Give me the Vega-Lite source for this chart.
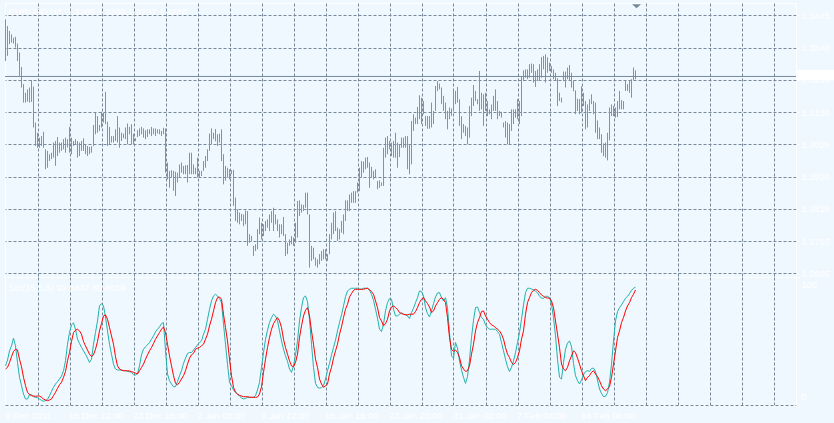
{
"$schema": "https://vega.github.io/schema/vega-lite/v6.json",
"background": "#f0f8ff",
"padding": {"left": 3, "top": 2, "right": 2, "bottom": 4},
"bounds": "flush",
"spacing": 0,
"config": {
  "view": {"stroke": "#ffffff", "strokeWidth": 1},
  "font": "Liberation Sans",
  "axis": {"labelFont": "Liberation Sans", "labelFontSize": 9.2, "labelColor": "#ffffff", "tickColor": "#ffffff", "domainColor": "#ffffff", "gridColor": "#778899", "gridDash": [3, 2], "gridWidth": 1, "title": null, "labelOverlap": false, "labelBound": false, "tickCount": 100}
},
"datasets": {"bars": [
{"i":0,"h":1.3432,"l":1.3296,"k":30.6,"d":28.1},
{"i":1,"h":1.3410,"l":1.3313,"k":35.1,"d":29.4},
{"i":2,"h":1.3394,"l":1.3351,"k":42.3,"d":33.2},
{"i":3,"h":1.3383,"l":1.3356,"k":46.2,"d":37.7},
{"i":4,"h":1.3372,"l":1.3353,"k":52.2,"d":41.8},
{"i":5,"h":1.3375,"l":1.3340,"k":46.2,"d":43.6},
{"i":6,"h":1.3353,"l":1.3296,"k":33.2,"d":42.9},
{"i":7,"h":1.3324,"l":1.3248,"k":21.6,"d":35.8},
{"i":8,"h":1.3277,"l":1.3210,"k":15.1,"d":29.9},
{"i":9,"h":1.3221,"l":1.3161,"k":8.6,"d":21.6},
{"i":10,"h":1.3193,"l":1.3161,"k":4.7,"d":15.1},
{"i":11,"h":1.3204,"l":1.3164,"k":4.7,"d":9.9},
{"i":12,"h":1.3210,"l":1.3161,"k":8.1,"d":8.1},
{"i":13,"h":1.3234,"l":1.3163,"k":8.1,"d":7.3},
{"i":14,"h":1.3213,"l":1.3080,"k":6.5,"d":7.0},
{"i":15,"h":1.3096,"l":1.3020,"k":6.0,"d":6.8},
{"i":16,"h":1.3063,"l":1.3014,"k":5.7,"d":7.0},
{"i":17,"h":1.3047,"l":1.3014,"k":4.7,"d":7.0},
{"i":18,"h":1.3052,"l":1.3020,"k":3.6,"d":6.0},
{"i":19,"h":1.3066,"l":1.3014,"k":2.9,"d":4.7},
{"i":20,"h":1.3009,"l":1.2944,"k":3.4,"d":3.9},
{"i":21,"h":1.3004,"l":1.2949,"k":4.4,"d":3.4},
{"i":22,"h":1.2993,"l":1.2971,"k":7.3,"d":3.9},
{"i":23,"h":1.2998,"l":1.2977,"k":10.6,"d":4.7},
{"i":24,"h":1.3031,"l":1.2982,"k":13.8,"d":7.3},
{"i":25,"h":1.3036,"l":1.2955,"k":16.4,"d":9.9},
{"i":26,"h":1.3049,"l":1.2987,"k":18.2,"d":13.0},
{"i":27,"h":1.3031,"l":1.2998,"k":20.3,"d":15.8},
{"i":28,"h":1.3031,"l":1.3004,"k":22.6,"d":17.7},
{"i":29,"h":1.3042,"l":1.3009,"k":26.8,"d":21.6},
{"i":30,"h":1.3047,"l":1.2998,"k":34.5,"d":26.2},
{"i":31,"h":1.3042,"l":1.3015,"k":47.5,"d":34.5},
{"i":32,"h":1.3082,"l":1.2998,"k":56.6,"d":41.0},
{"i":33,"h":1.3047,"l":1.2993,"k":62.6,"d":49.6},
{"i":34,"h":1.3036,"l":1.3020,"k":64.2,"d":56.6},
{"i":35,"h":1.3042,"l":1.3025,"k":59.2,"d":58.4},
{"i":36,"h":1.3036,"l":1.2982,"k":51.4,"d":59.2},
{"i":37,"h":1.3031,"l":1.2987,"k":48.1,"d":57.9},
{"i":38,"h":1.3036,"l":1.3004,"k":44.9,"d":55.3},
{"i":39,"h":1.3045,"l":1.3004,"k":42.3,"d":49.6},
{"i":40,"h":1.3025,"l":1.2993,"k":39.7,"d":46.2},
{"i":41,"h":1.3020,"l":1.2987,"k":36.6,"d":42.9},
{"i":42,"h":1.3017,"l":1.2993,"k":33.2,"d":39.7},
{"i":43,"h":1.3019,"l":1.2998,"k":35.8,"d":37.9},
{"i":44,"h":1.3088,"l":1.3020,"k":47.5,"d":39.2},
{"i":45,"h":1.3128,"l":1.3058,"k":56.6,"d":43.6},
{"i":46,"h":1.3117,"l":1.3063,"k":65.7,"d":49.6},
{"i":47,"h":1.3088,"l":1.3069,"k":77.4,"d":57.9},
{"i":48,"h":1.3131,"l":1.3080,"k":79.2,"d":63.6},
{"i":49,"h":1.3128,"l":1.3096,"k":77.4,"d":69.6},
{"i":50,"h":1.3196,"l":1.3091,"k":68.8,"d":70.4},
{"i":51,"h":1.3099,"l":1.3020,"k":57.9,"d":67.0},
{"i":52,"h":1.3082,"l":1.3025,"k":47.5,"d":60.5},
{"i":53,"h":1.3052,"l":1.3031,"k":39.7,"d":54.0},
{"i":54,"h":1.3052,"l":1.3031,"k":31.9,"d":47.5},
{"i":55,"h":1.3074,"l":1.3036,"k":28.1,"d":37.7},
{"i":56,"h":1.3117,"l":1.3031,"k":27.3,"d":30.6},
{"i":57,"h":1.3080,"l":1.3014,"k":27.3,"d":28.1},
{"i":58,"h":1.3063,"l":1.3036,"k":27.3,"d":27.3},
{"i":59,"h":1.3060,"l":1.3045,"k":26.8,"d":26.8},
{"i":60,"h":1.3080,"l":1.3042,"k":26.8,"d":26.8},
{"i":61,"h":1.3093,"l":1.3025,"k":26.2,"d":26.8},
{"i":62,"h":1.3082,"l":1.3058,"k":26.0,"d":26.5},
{"i":63,"h":1.3091,"l":1.3025,"k":25.5,"d":26.2},
{"i":64,"h":1.3060,"l":1.3025,"k":23.6,"d":25.5},
{"i":65,"h":1.3045,"l":1.3036,"k":23.4,"d":24.9},
{"i":66,"h":1.3071,"l":1.3049,"k":24.7,"d":24.2},
{"i":67,"h":1.3077,"l":1.3052,"k":30.6,"d":26.8},
{"i":68,"h":1.3082,"l":1.3058,"k":39.2,"d":29.4},
{"i":69,"h":1.3077,"l":1.3047,"k":43.6,"d":31.9},
{"i":70,"h":1.3071,"l":1.3042,"k":45.5,"d":35.8},
{"i":71,"h":1.3074,"l":1.3049,"k":47.0,"d":39.2},
{"i":72,"h":1.3074,"l":1.3058,"k":48.8,"d":42.3},
{"i":73,"h":1.3082,"l":1.3052,"k":51.4,"d":44.9},
{"i":74,"h":1.3077,"l":1.3058,"k":54.0,"d":48.1},
{"i":75,"h":1.3077,"l":1.3052,"k":57.1,"d":51.4},
{"i":76,"h":1.3074,"l":1.3060,"k":59.2,"d":54.0},
{"i":77,"h":1.3074,"l":1.3058,"k":61.0,"d":56.6},
{"i":78,"h":1.3069,"l":1.3052,"k":63.6,"d":59.2},
{"i":79,"h":1.3079,"l":1.3058,"k":64.4,"d":61.0},
{"i":80,"h":1.3077,"l":1.2933,"k":42.3,"d":56.6},
{"i":81,"h":1.2966,"l":1.2911,"k":24.2,"d":47.5},
{"i":82,"h":1.2939,"l":1.2884,"k":19.0,"d":38.4},
{"i":83,"h":1.2941,"l":1.2917,"k":16.4,"d":30.6},
{"i":84,"h":1.2939,"l":1.2874,"k":14.3,"d":22.9},
{"i":85,"h":1.2936,"l":1.2857,"k":14.3,"d":16.9},
{"i":86,"h":1.2933,"l":1.2901,"k":18.4,"d":15.8},
{"i":87,"h":1.2960,"l":1.2917,"k":22.9,"d":17.7},
{"i":88,"h":1.2966,"l":1.2933,"k":26.8,"d":20.3},
{"i":89,"h":1.2955,"l":1.2928,"k":32.5,"d":22.9},
{"i":90,"h":1.2957,"l":1.2928,"k":36.6,"d":26.8},
{"i":91,"h":1.2958,"l":1.2901,"k":40.3,"d":31.9},
{"i":92,"h":1.2998,"l":1.2928,"k":41.0,"d":36.6},
{"i":93,"h":1.2998,"l":1.2928,"k":41.0,"d":39.2},
{"i":94,"h":1.2960,"l":1.2928,"k":42.9,"d":40.3},
{"i":95,"h":1.2949,"l":1.2928,"k":44.9,"d":43.6},
{"i":96,"h":1.2982,"l":1.2917,"k":47.0,"d":44.4},
{"i":97,"h":1.2939,"l":1.2917,"k":48.8,"d":44.9},
{"i":98,"h":1.2939,"l":1.2922,"k":50.1,"d":46.2},
{"i":99,"h":1.2971,"l":1.2939,"k":55.3,"d":47.5},
{"i":100,"h":1.2987,"l":1.2949,"k":59.2,"d":51.4},
{"i":101,"h":1.3009,"l":1.2971,"k":67.0,"d":55.3},
{"i":102,"h":1.3060,"l":1.3004,"k":74.8,"d":61.8},
{"i":103,"h":1.3077,"l":1.3025,"k":81.3,"d":67.0},
{"i":104,"h":1.3063,"l":1.3042,"k":85.2,"d":73.5},
{"i":105,"h":1.3075,"l":1.3035,"k":86.5,"d":80.0},
{"i":106,"h":1.3058,"l":1.3020,"k":85.2,"d":83.9},
{"i":107,"h":1.3060,"l":1.3031,"k":83.1,"d":84.4},
{"i":108,"h":1.3074,"l":1.2971,"k":80.0,"d":82.6},
{"i":109,"h":1.2993,"l":1.2895,"k":63.1,"d":70.9},
{"i":110,"h":1.2955,"l":1.2907,"k":47.5,"d":60.5},
{"i":111,"h":1.2949,"l":1.2917,"k":31.9,"d":50.1},
{"i":112,"h":1.2944,"l":1.2911,"k":17.7,"d":35.8},
{"i":113,"h":1.2941,"l":1.2928,"k":15.1,"d":22.9},
{"i":114,"h":1.2942,"l":1.2825,"k":11.7,"d":13.8},
{"i":115,"h":1.2852,"l":1.2776,"k":9.9,"d":9.9},
{"i":116,"h":1.2814,"l":1.2770,"k":8.6,"d":8.6},
{"i":117,"h":1.2803,"l":1.2765,"k":7.0,"d":7.5},
{"i":118,"h":1.2799,"l":1.2776,"k":5.5,"d":7.0},
{"i":119,"h":1.2797,"l":1.2759,"k":4.7,"d":6.5},
{"i":120,"h":1.2810,"l":1.2765,"k":5.2,"d":6.5},
{"i":121,"h":1.2808,"l":1.2695,"k":6.0,"d":6.5},
{"i":122,"h":1.2733,"l":1.2705,"k":6.0,"d":6.0},
{"i":123,"h":1.2727,"l":1.2711,"k":6.0,"d":6.0},
{"i":124,"h":1.2695,"l":1.2662,"k":6.0,"d":6.0},
{"i":125,"h":1.2700,"l":1.2678,"k":7.3,"d":6.0},
{"i":126,"h":1.2749,"l":1.2684,"k":11.7,"d":6.2},
{"i":127,"h":1.2787,"l":1.2733,"k":17.7,"d":8.6},
{"i":128,"h":1.2770,"l":1.2716,"k":29.4,"d":14.3},
{"i":129,"h":1.2765,"l":1.2727,"k":41.0,"d":25.5},
{"i":130,"h":1.2776,"l":1.2743,"k":51.4,"d":35.8},
{"i":131,"h":1.2781,"l":1.2754,"k":58.4,"d":44.9},
{"i":132,"h":1.2797,"l":1.2743,"k":64.4,"d":52.7},
{"i":133,"h":1.2808,"l":1.2770,"k":68.3,"d":59.2},
{"i":134,"h":1.2819,"l":1.2743,"k":70.9,"d":63.6},
{"i":135,"h":1.2797,"l":1.2765,"k":69.6,"d":66.2},
{"i":136,"h":1.2781,"l":1.2743,"k":65.7,"d":68.3},
{"i":137,"h":1.2765,"l":1.2722,"k":57.9,"d":65.7},
{"i":138,"h":1.2765,"l":1.2733,"k":50.1,"d":60.5},
{"i":139,"h":1.2789,"l":1.2727,"k":43.6,"d":51.4},
{"i":140,"h":1.2733,"l":1.2662,"k":38.4,"d":44.9},
{"i":141,"h":1.2705,"l":1.2668,"k":34.0,"d":39.7},
{"i":142,"h":1.2716,"l":1.2695,"k":28.1,"d":34.5},
{"i":143,"h":1.2727,"l":1.2700,"k":25.5,"d":30.6},
{"i":144,"h":1.2722,"l":1.2695,"k":30.6,"d":29.9},
{"i":145,"h":1.2770,"l":1.2705,"k":39.2,"d":33.2},
{"i":146,"h":1.2841,"l":1.2722,"k":50.1,"d":39.7},
{"i":147,"h":1.2843,"l":1.2792,"k":65.7,"d":52.7},
{"i":148,"h":1.2830,"l":1.2803,"k":76.1,"d":61.8},
{"i":149,"h":1.2828,"l":1.2808,"k":83.9,"d":69.6},
{"i":150,"h":1.2868,"l":1.2819,"k":85.2,"d":74.0},
{"i":151,"h":1.2868,"l":1.2797,"k":80.8,"d":76.1},
{"i":152,"h":1.2797,"l":1.2624,"k":67.0,"d":69.6},
{"i":153,"h":1.2695,"l":1.2646,"k":47.5,"d":57.9},
{"i":154,"h":1.2689,"l":1.2651,"k":29.4,"d":47.5},
{"i":155,"h":1.2657,"l":1.2630,"k":16.9,"d":35.8},
{"i":156,"h":1.2651,"l":1.2624,"k":13.8,"d":29.4},
{"i":157,"h":1.2668,"l":1.2635,"k":13.2,"d":20.3},
{"i":158,"h":1.2678,"l":1.2646,"k":13.5,"d":16.4},
{"i":159,"h":1.2684,"l":1.2651,"k":15.1,"d":13.8},
{"i":160,"h":1.2684,"l":1.2651,"k":20.3,"d":14.8},
{"i":161,"h":1.2668,"l":1.2646,"k":26.8,"d":16.4},
{"i":162,"h":1.2733,"l":1.2668,"k":32.5,"d":24.2},
{"i":163,"h":1.2770,"l":1.2716,"k":39.2,"d":29.4},
{"i":164,"h":1.2803,"l":1.2733,"k":44.9,"d":36.6},
{"i":165,"h":1.2808,"l":1.2743,"k":50.6,"d":42.3},
{"i":166,"h":1.2754,"l":1.2711,"k":57.9,"d":47.5},
{"i":167,"h":1.2749,"l":1.2716,"k":64.4,"d":55.3},
{"i":168,"h":1.2776,"l":1.2738,"k":70.4,"d":61.0},
{"i":169,"h":1.2797,"l":1.2733,"k":77.4,"d":68.3},
{"i":170,"h":1.2843,"l":1.2776,"k":84.7,"d":74.8},
{"i":171,"h":1.2843,"l":1.2808,"k":89.1,"d":78.7},
{"i":172,"h":1.2862,"l":1.2808,"k":90.4,"d":84.4},
{"i":173,"h":1.2868,"l":1.2835,"k":91.2,"d":87.0},
{"i":174,"h":1.2873,"l":1.2835,"k":91.2,"d":89.6},
{"i":175,"h":1.2873,"l":1.2835,"k":91.2,"d":90.4},
{"i":176,"h":1.2901,"l":1.2868,"k":91.2,"d":90.4},
{"i":177,"h":1.2949,"l":1.2873,"k":90.6,"d":90.4},
{"i":178,"h":1.2971,"l":1.2917,"k":90.4,"d":90.4},
{"i":179,"h":1.2969,"l":1.2933,"k":91.2,"d":90.4},
{"i":180,"h":1.2982,"l":1.2944,"k":91.2,"d":90.9},
{"i":181,"h":1.2984,"l":1.2949,"k":91.2,"d":91.2},
{"i":182,"h":1.2966,"l":1.2884,"k":89.6,"d":90.1},
{"i":183,"h":1.2952,"l":1.2917,"k":86.5,"d":88.6},
{"i":184,"h":1.2939,"l":1.2911,"k":81.8,"d":86.5},
{"i":185,"h":1.2944,"l":1.2917,"k":74.8,"d":81.3},
{"i":186,"h":1.2906,"l":1.2879,"k":67.8,"d":76.1},
{"i":187,"h":1.2908,"l":1.2884,"k":59.2,"d":68.3},
{"i":188,"h":1.2901,"l":1.2890,"k":57.4,"d":65.7},
{"i":189,"h":1.3014,"l":1.2890,"k":63.1,"d":61.8},
{"i":190,"h":1.3047,"l":1.2982,"k":73.5,"d":63.6},
{"i":191,"h":1.3052,"l":1.2993,"k":80.0,"d":67.0},
{"i":192,"h":1.3036,"l":1.3009,"k":83.1,"d":73.5},
{"i":193,"h":1.3031,"l":1.2987,"k":82.6,"d":76.6},
{"i":194,"h":1.3036,"l":1.2982,"k":74.8,"d":77.4},
{"i":195,"h":1.3063,"l":1.2982,"k":69.6,"d":76.1},
{"i":196,"h":1.3031,"l":1.2949,"k":69.6,"d":74.8},
{"i":197,"h":1.3025,"l":1.2984,"k":70.9,"d":72.2},
{"i":198,"h":1.3047,"l":1.3014,"k":72.2,"d":71.4},
{"i":199,"h":1.3047,"l":1.3014,"k":70.9,"d":70.9},
{"i":200,"h":1.3052,"l":1.3014,"k":70.4,"d":70.6},
{"i":201,"h":1.3052,"l":1.2944,"k":69.6,"d":70.4},
{"i":202,"h":1.3025,"l":1.2928,"k":67.5,"d":70.9},
{"i":203,"h":1.3101,"l":1.2960,"k":72.2,"d":70.9},
{"i":204,"h":1.3123,"l":1.3069,"k":75.6,"d":70.9},
{"i":205,"h":1.3112,"l":1.3091,"k":80.0,"d":73.0},
{"i":206,"h":1.3147,"l":1.3091,"k":83.9,"d":76.1},
{"i":207,"h":1.3185,"l":1.3107,"k":89.1,"d":80.0},
{"i":208,"h":1.3177,"l":1.3091,"k":88.6,"d":82.6},
{"i":209,"h":1.3166,"l":1.3123,"k":85.2,"d":83.9},
{"i":210,"h":1.3117,"l":1.3085,"k":76.1,"d":81.3},
{"i":211,"h":1.3117,"l":1.3076,"k":71.4,"d":79.2},
{"i":212,"h":1.3117,"l":1.3076,"k":68.8,"d":76.6},
{"i":213,"h":1.3161,"l":1.3080,"k":73.5,"d":72.2},
{"i":214,"h":1.3134,"l":1.3091,"k":79.2,"d":73.5},
{"i":215,"h":1.3215,"l":1.3134,"k":84.4,"d":77.4},
{"i":216,"h":1.3231,"l":1.3198,"k":87.5,"d":80.0},
{"i":217,"h":1.3223,"l":1.3204,"k":87.8,"d":82.6},
{"i":218,"h":1.3210,"l":1.3156,"k":83.9,"d":83.9},
{"i":219,"h":1.3183,"l":1.3134,"k":81.3,"d":82.6},
{"i":220,"h":1.3161,"l":1.3107,"k":83.9,"d":80.0},
{"i":221,"h":1.3134,"l":1.3074,"k":76.1,"d":68.3},
{"i":222,"h":1.3145,"l":1.3107,"k":56.6,"d":52.7},
{"i":223,"h":1.3142,"l":1.3118,"k":38.4,"d":43.6},
{"i":224,"h":1.3199,"l":1.3134,"k":36.6,"d":41.8},
{"i":225,"h":1.3199,"l":1.3156,"k":48.8,"d":42.9},
{"i":226,"h":1.3212,"l":1.3161,"k":44.4,"d":41.0},
{"i":227,"h":1.3172,"l":1.3085,"k":34.5,"d":37.1},
{"i":228,"h":1.3117,"l":1.3042,"k":27.3,"d":30.6},
{"i":229,"h":1.3091,"l":1.3063,"k":21.6,"d":28.1},
{"i":230,"h":1.3085,"l":1.3052,"k":16.9,"d":26.2},
{"i":231,"h":1.3080,"l":1.3025,"k":22.3,"d":26.8},
{"i":232,"h":1.3150,"l":1.3047,"k":35.1,"d":30.6},
{"i":233,"h":1.3177,"l":1.3117,"k":52.7,"d":39.7},
{"i":234,"h":1.3218,"l":1.3150,"k":66.2,"d":47.5},
{"i":235,"h":1.3199,"l":1.3166,"k":76.1,"d":57.9},
{"i":236,"h":1.3172,"l":1.3156,"k":76.6,"d":64.4},
{"i":237,"h":1.3264,"l":1.3134,"k":72.2,"d":68.3},
{"i":238,"h":1.3193,"l":1.3139,"k":68.3,"d":73.0},
{"i":239,"h":1.3188,"l":1.3085,"k":67.0,"d":73.5},
{"i":240,"h":1.3193,"l":1.3134,"k":62.6,"d":69.6},
{"i":241,"h":1.3166,"l":1.3117,"k":60.5,"d":67.0},
{"i":242,"h":1.3139,"l":1.3123,"k":59.2,"d":64.4},
{"i":243,"h":1.3155,"l":1.3107,"k":59.2,"d":62.6},
{"i":244,"h":1.3183,"l":1.3134,"k":59.2,"d":61.8},
{"i":245,"h":1.3204,"l":1.3134,"k":59.2,"d":60.5},
{"i":246,"h":1.3166,"l":1.3107,"k":57.4,"d":59.2},
{"i":247,"h":1.3134,"l":1.3117,"k":55.3,"d":57.9},
{"i":248,"h":1.3131,"l":1.3112,"k":48.8,"d":55.3},
{"i":249,"h":1.3096,"l":1.3080,"k":42.3,"d":51.4},
{"i":250,"h":1.3101,"l":1.3047,"k":35.8,"d":44.9},
{"i":251,"h":1.3096,"l":1.3025,"k":29.9,"d":39.7},
{"i":252,"h":1.3091,"l":1.3025,"k":26.2,"d":37.1},
{"i":253,"h":1.3139,"l":1.3069,"k":29.4,"d":33.2},
{"i":254,"h":1.3139,"l":1.3091,"k":34.5,"d":31.7},
{"i":255,"h":1.3139,"l":1.3112,"k":40.8,"d":33.2},
{"i":256,"h":1.3172,"l":1.3107,"k":48.8,"d":37.1},
{"i":257,"h":1.3166,"l":1.3091,"k":56.6,"d":42.3},
{"i":258,"h":1.3244,"l":1.3117,"k":67.0,"d":51.4},
{"i":259,"h":1.3266,"l":1.3231,"k":78.2,"d":57.9},
{"i":260,"h":1.3269,"l":1.3242,"k":87.8,"d":70.9},
{"i":261,"h":1.3269,"l":1.3237,"k":91.2,"d":80.0},
{"i":262,"h":1.3286,"l":1.3242,"k":91.2,"d":83.9},
{"i":263,"h":1.3288,"l":1.3258,"k":90.6,"d":87.8},
{"i":264,"h":1.3286,"l":1.3226,"k":90.1,"d":89.6},
{"i":265,"h":1.3264,"l":1.3212,"k":89.1,"d":90.4},
{"i":266,"h":1.3269,"l":1.3231,"k":87.5,"d":89.6},
{"i":267,"h":1.3286,"l":1.3231,"k":85.2,"d":87.8},
{"i":268,"h":1.3309,"l":1.3242,"k":83.4,"d":86.0},
{"i":269,"h":1.3313,"l":1.3269,"k":83.4,"d":84.9},
{"i":270,"h":1.3318,"l":1.3226,"k":84.9,"d":83.9},
{"i":271,"h":1.3308,"l":1.3258,"k":84.9,"d":83.6},
{"i":272,"h":1.3291,"l":1.3264,"k":83.9,"d":83.4},
{"i":273,"h":1.3280,"l":1.3258,"k":78.7,"d":81.3},
{"i":274,"h":1.3269,"l":1.3237,"k":68.3,"d":76.1},
{"i":275,"h":1.3258,"l":1.3233,"k":54.0,"d":65.7},
{"i":276,"h":1.3240,"l":1.3150,"k":35.8,"d":55.3},
{"i":277,"h":1.3193,"l":1.3166,"k":21.6,"d":44.9},
{"i":278,"h":1.3177,"l":1.3161,"k":20.3,"d":31.9},
{"i":279,"h":1.3262,"l":1.3231,"k":33.2,"d":28.1},
{"i":280,"h":1.3262,"l":1.3210,"k":43.6,"d":26.8},
{"i":281,"h":1.3275,"l":1.3237,"k":48.3,"d":29.4},
{"i":282,"h":1.3283,"l":1.3231,"k":50.1,"d":34.5},
{"i":283,"h":1.3258,"l":1.3210,"k":45.5,"d":38.4},
{"i":284,"h":1.3233,"l":1.3198,"k":32.5,"d":42.3},
{"i":285,"h":1.3201,"l":1.3123,"k":22.9,"d":41.0},
{"i":286,"h":1.3174,"l":1.3134,"k":19.0,"d":36.6},
{"i":287,"h":1.3172,"l":1.3123,"k":16.4,"d":31.9},
{"i":288,"h":1.3214,"l":1.3128,"k":19.5,"d":26.8},
{"i":289,"h":1.3193,"l":1.3150,"k":23.6,"d":22.9},
{"i":290,"h":1.3166,"l":1.3074,"k":26.2,"d":19.0},
{"i":291,"h":1.3155,"l":1.3080,"k":26.8,"d":21.6},
{"i":292,"h":1.3172,"l":1.3134,"k":26.2,"d":22.9},
{"i":293,"h":1.3188,"l":1.3156,"k":28.6,"d":25.5},
{"i":294,"h":1.3166,"l":1.3123,"k":28.8,"d":26.8},
{"i":295,"h":1.3161,"l":1.3063,"k":26.2,"d":24.2},
{"i":296,"h":1.3103,"l":1.3042,"k":19.5,"d":22.1},
{"i":297,"h":1.3080,"l":1.3042,"k":12.5,"d":19.0},
{"i":298,"h":1.3058,"l":1.2998,"k":9.1,"d":15.1},
{"i":299,"h":1.3028,"l":1.2987,"k":6.5,"d":12.5},
{"i":300,"h":1.3031,"l":1.2982,"k":6.8,"d":11.2},
{"i":301,"h":1.3063,"l":1.2973,"k":9.6,"d":12.5},
{"i":302,"h":1.3145,"l":1.3038,"k":17.7,"d":14.3},
{"i":303,"h":1.3155,"l":1.3117,"k":31.9,"d":21.6},
{"i":304,"h":1.3150,"l":1.3117,"k":50.1,"d":31.9},
{"i":305,"h":1.3145,"l":1.3112,"k":65.7,"d":42.3},
{"i":306,"h":1.3166,"l":1.3114,"k":73.0,"d":52.7},
{"i":307,"h":1.3199,"l":1.3139,"k":76.1,"d":57.9},
{"i":308,"h":1.3169,"l":1.3139,"k":78.2,"d":64.4},
{"i":309,"h":1.3166,"l":1.3139,"k":80.8,"d":68.3},
{"i":310,"h":1.3233,"l":1.3199,"k":83.4,"d":73.5},
{"i":311,"h":1.3221,"l":1.3199,"k":84.9,"d":77.4},
{"i":312,"h":1.3231,"l":1.3193,"k":87.0,"d":80.0},
{"i":313,"h":1.3237,"l":1.3177,"k":89.6,"d":83.9},
{"i":314,"h":1.3275,"l":1.3233,"k":91.2,"d":86.5},
{"i":315,"h":1.3266,"l":1.3237,"k":92.0447,"d":89.8656}
]},
"vconcat": [
{
  "width": 791,
  "height": 274,
  "layer": [
    {
      "data": {"name": "bars"},
      "mark": {"type": "rule", "color": "#22dd22", "strokeWidth": 1},
      "encoding": {
        "x": {"field": "i", "type": "quantitative", "scale": {"domain": [-0.25, 395.25], "nice": false, "zero": false},
              "axis": {"values": [16,32,48,64,80,96,112,128,144,160,176,192,208,224,240,256,272,288,304,320,336,352,368,384], "tickCount": 100, "grid": true, "labels": false, "ticks": false, "domain": false, "minExtent": 0, "maxExtent": 0}},
        "y": {"field": "h", "type": "quantitative", "scale": {"domain": [1.25936, 1.3485], "nice": false, "zero": false},
              "axis": {"orient": "right", "values": [1.2605, 1.271, 1.2815, 1.292, 1.3025, 1.313, 1.3235, 1.334, 1.3445], "tickCount": 100, "format": ".4f", "grid": true, "domain": false, "tickSize": 3, "labelPadding": 2, "labelFlush": false}},
        "y2": {"field": "l"}
      }
    },
    {
      "data": {"values": [{"p": 1.3246}]},
      "mark": {"type": "rule", "color": "#778899", "strokeWidth": 1},
      "encoding": {"y": {"field": "p", "type": "quantitative"}}
    },
    {
      "data": {"values": [{"i": 395.75, "i2": 414.25, "p": 1.3267, "p2": 1.32335}]},
      "mark": {"type": "rect", "color": "#ffffff", "clip": false},
      "encoding": {"x": {"field": "i", "type": "quantitative"}, "x2": {"field": "i2"}, "y": {"field": "p", "type": "quantitative"}, "y2": {"field": "p2"}}
    },
    {
      "data": {"values": [{"i": 399, "p": 1.3246, "t": "1.3246"}]},
      "mark": {"type": "text", "color": "#ffffff", "align": "left", "baseline": "middle", "font": "Liberation Sans", "fontSize": 9.2},
      "encoding": {"x": {"field": "i", "type": "quantitative"}, "y": {"field": "p", "type": "quantitative"}, "text": {"field": "t"}}
    },
    {
      "data": {"values": [{"i": 1.5, "p": 1.3446, "t": "EURUSD,H4\u00a0 1.3265 1.3266 1.3237 1.3246"}]},
      "mark": {"type": "text", "color": "#ffffff", "align": "left", "baseline": "alphabetic", "font": "Liberation Sans", "fontSize": 9.2},
      "encoding": {"x": {"field": "i", "type": "quantitative"}, "y": {"field": "p", "type": "quantitative"}, "text": {"field": "t"}}
    },
    {
      "data": {"values": [{"i": 315.5, "p": 1.34743}]},
      "mark": {"type": "point", "shape": "M-1,-0.45L1,-0.45L0,0.45Z", "filled": true, "color": "#778899", "opacity": 1, "size": 81},
      "encoding": {"x": {"field": "i", "type": "quantitative"}, "y": {"field": "p", "type": "quantitative"}}
    }
  ]
},
{
  "width": 791,
  "height": 128,
  "layer": [
    {
      "data": {"name": "bars"},
      "mark": {"type": "line", "color": "#20b2aa", "strokeWidth": 1},
      "encoding": {
        "x": {"field": "i", "type": "quantitative", "scale": {"domain": [-0.25, 395.25], "nice": false, "zero": false},
              "axis": {"values": [0,16,32,48,64,80,96,112,128,144,160,176,192,208,224,240,256,272,288,304,320,336,352,368,384], "tickCount": 100,
                       "grid": true, "gridOpacity": {"condition": {"test": "datum.value == 0", "value": 0}, "value": 1},
                       "domain": true, "domainColor": "#778899", "domainDash": [3, 2], "ticks": true, "tickSize": 3,
                       "labelAlign": "left", "labelPadding": 3, "labelOffset": -1, "labelFlush": false,
                       "labelExpr": "(datum.value % 32 == 0 && datum.value <= 288) ? ['9 Dec 2011','16 Dec 12:00','23 Dec 16:00','2 Jan 08:00','9 Jan 12:00','16 Jan 16:00','23 Jan 20:00','31 Jan 00:00','7 Feb 04:00','14 Feb 08:00'][datum.value / 32] : ''"}},
        "y": {"field": "k", "type": "quantitative", "scale": {"domain": [0, 100], "nice": false, "zero": false},
              "axis": {"orient": "right", "values": [0, 100], "format": "d", "grid": false, "domain": false, "tickSize": 3, "labelPadding": 2, "labelFlush": true, "labelFlushOffset": -3.5}}
      }
    },
    {
      "data": {"name": "bars"},
      "mark": {"type": "line", "color": "#ff0000", "strokeWidth": 1},
      "encoding": {
        "x": {"field": "i", "type": "quantitative"},
        "y": {"field": "d", "type": "quantitative"}
      }
    },
    {
      "data": {"values": [{"i": 1.5, "k": 89.1, "t": "Sto(15,5,5) 92.0447 89.8656"}]},
      "mark": {"type": "text", "color": "#ffffff", "align": "left", "baseline": "alphabetic", "font": "Liberation Sans", "fontSize": 9.2},
      "encoding": {"x": {"field": "i", "type": "quantitative"}, "y": {"field": "k", "type": "quantitative"}, "text": {"field": "t"}}
    }
  ]
}
]
}
